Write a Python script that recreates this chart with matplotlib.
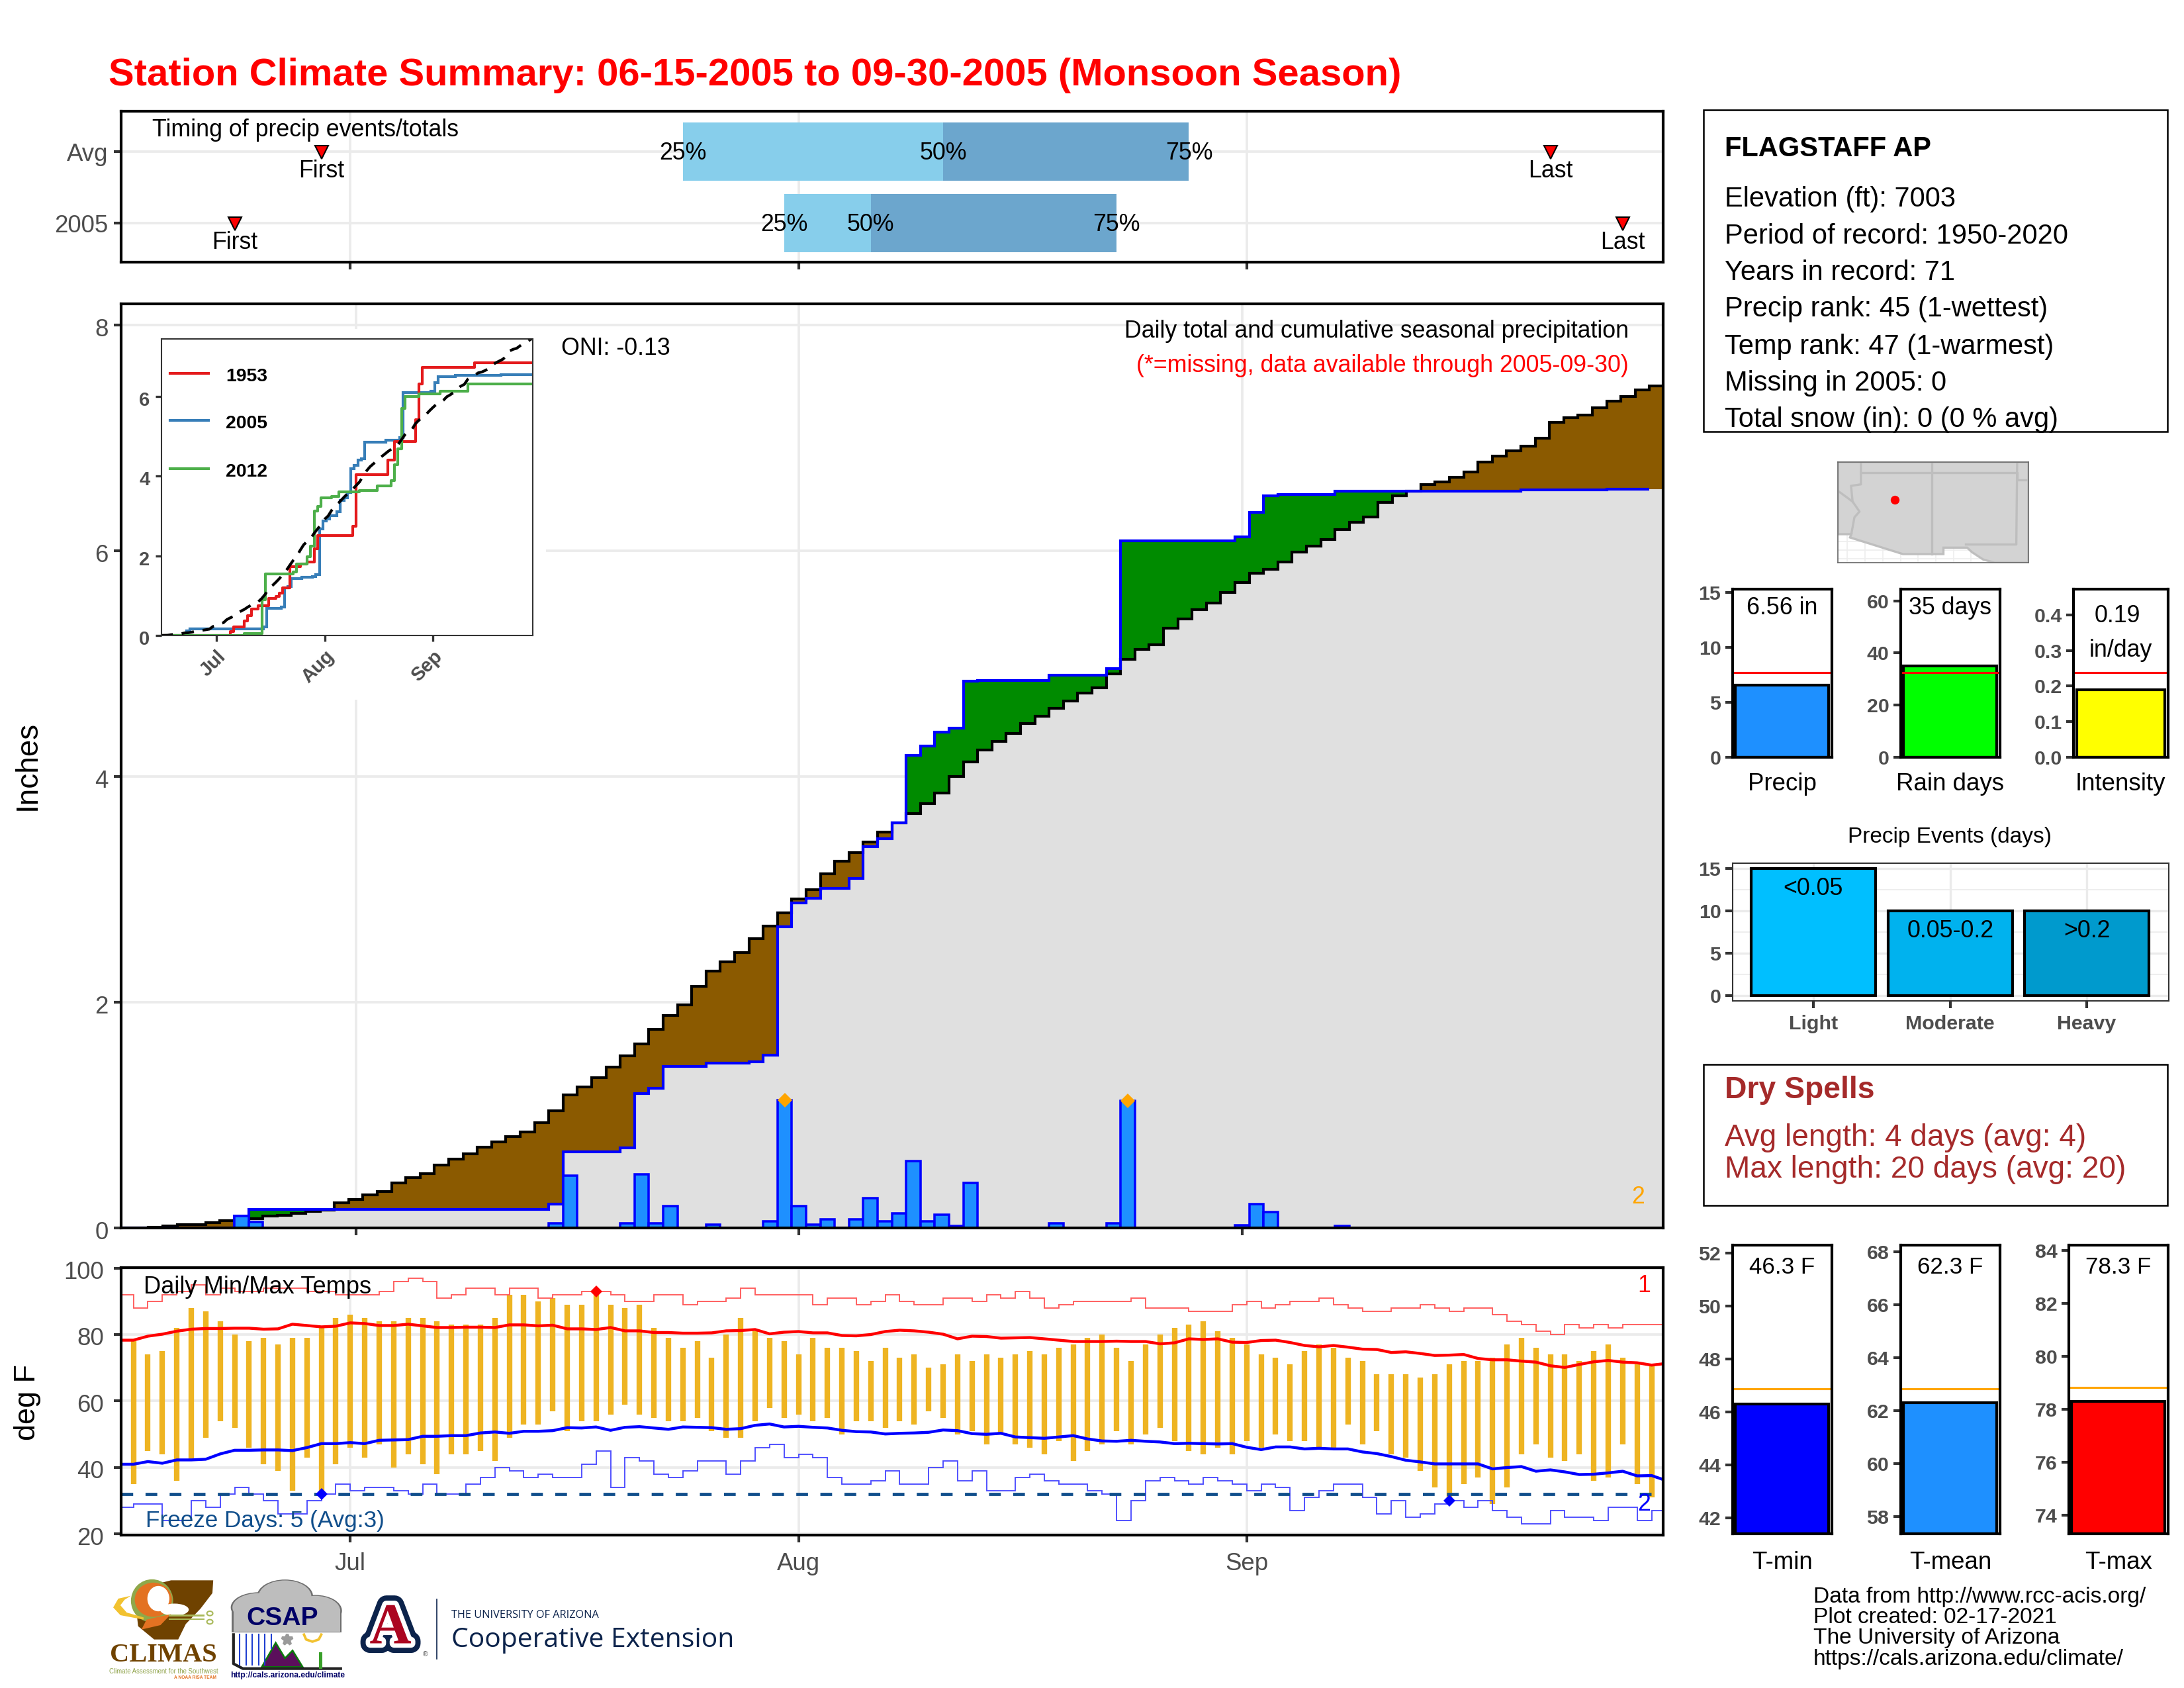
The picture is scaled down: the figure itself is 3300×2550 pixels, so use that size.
import numpy as np
import matplotlib
matplotlib.use("Agg")
import matplotlib.pyplot as plt
from matplotlib.patches import Rectangle, Polygon, Ellipse
from matplotlib.transforms import ScaledTranslation
import matplotlib.patheffects as pe

plt.rcParams['font.family'] = ['Liberation Sans', 'DejaVu Sans']

# ---------- data ----------
month_days = [16, 47, 78]
month_labels = ['Jul', 'Aug', 'Sep']

avg_cum = [0, .002, .005, .02, .03, .03, .047, .065, .07, .085,
           .105, .11, .13, .145, .16, .225, .25, .295, .32, .40,
           .445, .483, .555, .61, .655, .713, .764, .81, .848, .93,
           1.037, 1.18, 1.25, 1.334, 1.425, 1.524, 1.63, 1.76, 1.885, 1.98,
           2.14, 2.277, 2.36, 2.44, 2.565, 2.676, 2.79, 2.918, 3.0, 3.14,
           3.25, 3.326, 3.42, 3.51, 3.59, 3.67, 3.76, 3.853, 4.0, 4.13,
           4.235, 4.31, 4.385, 4.47, 4.535, 4.607, 4.67, 4.74, 4.79, 4.91,
           5.04, 5.13, 5.17, 5.315, 5.40, 5.48, 5.54, 5.635, 5.72, 5.80,
           5.84, 5.90, 5.99, 6.04, 6.10, 6.19, 6.255, 6.30, 6.43, 6.49,
           6.53, 6.59, 6.61, 6.65, 6.70, 6.79, 6.84, 6.885, 6.93, 7.0,
           7.14, 7.18, 7.205, 7.27, 7.33, 7.37, 7.43, 7.46]

cum_2005 = [0, 0, 0, 0, 0, 0, 0, 0, .108, .165,
            .165, .165, .165, .165, .165, .165, .165, .165, .165, .165,
            .165, .165, .165, .165, .165, .165, .165, .165, .165, .165,
            .21, .675, .675, .675, .675, .71, 1.19, 1.235, 1.43, 1.43,
            1.43, 1.46, 1.46, 1.46, 1.47, 1.534, 2.67, 2.88, 2.92, 3.01,
            3.01, 3.10, 3.38, 3.45, 3.59, 4.19, 4.27, 4.395, 4.43, 4.845,
            4.85, 4.85, 4.85, 4.85, 4.85, 4.90, 4.90, 4.90, 4.90, 4.96,
            6.09, 6.09, 6.09, 6.09, 6.09, 6.09, 6.09, 6.09, 6.126, 6.34,
            6.49, 6.50, 6.50, 6.50, 6.50, 6.53, 6.53, 6.53, 6.53, 6.53,
            6.53, 6.53, 6.53, 6.53, 6.53, 6.53, 6.53, 6.53, 6.54, 6.54,
            6.54, 6.54, 6.54, 6.54, 6.55, 6.55, 6.55, 6.55]

rain_days = [8, 9, 30, 31, 35, 36, 37, 38, 41, 45, 46, 47, 48, 49, 51, 52, 53, 54, 55, 56,
             57, 58, 59, 65, 69, 70, 78, 79, 80, 85]
rain_vals = [.108, .05, .04, .466, .04, .476, .04, .196, .03, .057, 1.13, .196, .03, .078, .078,
             .263, .057, .13, .594, .057, .12, .02, .40, .04, .04, 1.126, .025, .21, .14, .015]
record_rain_days = [46, 70]
record_rain_vals = [1.13, 1.126]

days_1953 = [0, 20, 21, 24, 25, 26, 28, 31, 33, 34, 35, 37, 40, 42, 44, 45, 55, 56, 65, 67, 73, 74, 75, 90, 107]
vals_1953 = [0, .095, .21, .36, .5, .66, .75, .93, .985, 1.07, 1.2, 1.73, 1.79, 1.85, 2.17, 2.51, 2.74, 4.04,
             4.40, 4.87, 5.41, 6.31, 6.72, 6.85, 6.85]
days_2012 = [0, 24, 29, 30, 38, 39, 42, 43, 44, 45, 46, 49, 51, 57, 62, 66, 67, 68, 69, 70, 74, 80, 88, 107]
vals_2012 = [0, .05, .9, 1.54, 1.6, 1.79, 1.98, 2.24, 3.12, 3.24, 3.46, 3.49, 3.6, 3.63, 3.76, 3.89, 4.28, 4.69,
             5.69, 5.99, 6.06, 6.12, 6.31, 6.31]

tmax_2005 = [78, 74, 75, 82, 88, 87, 84, 80, 78, 79,
             77, 79, 79, 82, 85, 86, 85, 84, 84, 85,
             85, 84, 83, 83, 83, 85, 92, 92, 90, 91,
             89, 89, 92, 89, 88, 89, 82, 79, 76, 78,
             73, 80, 85, 81, 79, 78, 74, 79, 76, 76,
             75, 72, 76, 73, 74, 70, 71, 74, 72, 74,
             73, 74, 75, 74, 76, 77, 79, 80, 76, 72,
             77, 80, 82, 83, 84, 81, 79, 77, 74, 73,
             71, 75, 77, 76, 73, 72, 68, 68, 68, 67,
             68, 71, 72, 72, 73, 77, 79, 76, 74, 74,
             72, 75, 77, 73, 71, 71]
tmin_2005 = [35, 45, 44, 36, 42, 49, 54, 52, 46, 41,
             39, 33, 43, 32, 41, 46, 43, 47, 40, 44,
             41, 38, 44, 44, 45, 42, 49, 53, 53, 57,
             51, 54, 54, 56, 59, 56, 55, 54, 54, 55,
             51, 49, 49, 54, 58, 55, 56, 54, 55, 50,
             54, 54, 52, 54, 53, 57, 55, 50, 51, 47,
             50, 47, 46, 44, 48, 42, 45, 47, 51, 47,
             50, 52, 48, 45, 44, 46, 44, 48, 46, 50,
             48, 48, 46, 46, 53, 47, 51, 44, 43, 39,
             34, 31, 35, 37, 29, 34, 44, 47, 43, 42,
             44, 36, 37, 47, 35, 31]

tmax_avg = [78.3, 78.3, 79.5, 80.1, 81, 81.6, 81.8, 81.8, 81.9, 81.9,
            81.6, 81.7, 83.1, 82.7, 82.3, 82.5, 83.5, 83.3, 82.7, 82.7,
            83.1, 82.6, 82.1, 82.1, 82.2, 82.2, 82.1, 82.9, 82.9, 82.6,
            82.8, 81.7, 81.7, 81.5, 82.1, 81.1, 81.1, 80.6, 80.6, 80.4,
            80.4, 80.5, 81.1, 81.2, 81.5, 80.2, 80.7, 80.9, 80.5, 80.5,
            79.7, 79.6, 80, 80.9, 81.3, 81.1, 80.7, 80.1, 78.7, 79.5,
            79.4, 78.9, 79, 79.1, 78.7, 78.3, 77.9, 77.9, 77.9, 78,
            77.9, 77.9, 77.2, 77.5, 78.7, 78.5, 78.7, 77.7, 77.6, 78.2,
            78.3, 77.6, 76.7, 76.3, 76.7, 76.2, 75.6, 75.5, 74.6, 74.8,
            74.3, 73.7, 73.8, 74, 72.8, 72.4, 72.4, 72, 71.7, 70.6,
            70.1, 71, 71.8, 72.2, 71.7, 71.5, 70.8, 71.3]
tmin_avg = [41, 41, 41.8, 41.3, 42.3, 42.3, 42.5, 44.1, 45.2, 45.2,
            45.3, 45.3, 45.1, 46, 47.2, 47.2, 47.5, 47.2, 48.2, 48.3,
            48.4, 49.4, 49.4, 49.6, 49.6, 50.4, 50.7, 50.3, 50.9, 50.9,
            51.1, 52, 51.9, 52.2, 51.2, 52.1, 52.3, 51.9, 51.5, 52.2,
            52.1, 52, 51.5, 51.7, 52.7, 53.1, 52.2, 52.4, 52.1, 51.9,
            51.2, 50.8, 50.7, 50.1, 50.3, 50.4, 50.6, 51.3, 51.1, 50.2,
            50, 50.3, 49.2, 49, 48.8, 49.2, 49.6, 48.6, 48, 47.9,
            48.2, 47.9, 47.7, 47.2, 47.3, 47.2, 47.1, 47.2, 46.1, 45.4,
            46.2, 46.2, 45.6, 45.8, 45.6, 45.6, 44.7, 44.2, 43.3, 42.2,
            41.7, 41.1, 41.1, 41.1, 41.1, 39.6, 40, 40.3, 38.9, 39.3,
            38.7, 37.9, 38, 38.4, 38.9, 37.5, 37.6, 36.1]
record_high = [92, 88, 90, 92, 93, 95, 92, 94, 93, 93,
               94, 94, 94, 93, 93, 92, 92, 92, 93, 96,
               97, 96, 91, 92, 94, 94, 92, 94, 94, 91,
               92, 92, 93, 93, 92, 90, 90, 92, 92, 89,
               90, 90, 91, 94, 92, 92, 92, 92, 89, 91,
               91, 89, 90, 92, 90, 89, 89, 91, 91, 90,
               92, 91, 93, 91, 88, 89, 90, 90, 90, 90,
               91, 88, 88, 88, 87, 87, 87, 89, 90, 88,
               89, 90, 90, 91, 89, 88, 87, 87, 88, 88,
               89, 88, 87, 88, 88, 86, 84, 83, 81, 80,
               83, 82, 83, 82, 83, 83, 83]
record_low = [28, 29, 29, 24, 24, 30, 28, 32, 34, 32,
              30, 26, 26, 30, 32, 35, 33, 34, 34, 33,
              32, 35, 32, 32, 35, 37, 40, 39, 37, 38,
              37, 37, 41, 45, 34, 43, 42, 38, 37, 39,
              42, 42, 38, 42, 46, 47, 43, 44, 43, 37,
              35, 35, 36, 39, 35, 35, 40, 42, 36, 39,
              33, 33, 37, 38, 36, 35, 35, 33, 32, 24,
              30, 36, 37, 36, 35, 37, 36, 35, 33, 35,
              34, 27, 31, 33, 35, 35, 31, 26, 30, 25,
              26, 29, 30, 28, 30, 27, 25, 23, 23, 27,
              25, 25, 24, 28, 28, 24, 27]

timing_avg = [39, 57, 74]
timing_2005 = [46, 52, 69]
first_last_avg = [14, 99]
first_last_2005 = [8, 104]

summary_titles = ['Precip', 'Rain days', 'Intensity']
summary_vals = [6.56, 35, 0.19]
summary_avgs = [7.7, 32.4, 0.237]
summary_colors = ['#1E90FF', '#00FF00', '#FFFF00']
event_names = ['Light', 'Moderate', 'Heavy']
event_vals = [15, 10, 10]
event_labels = ['<0.05', '0.05-0.2', '>0.2']
event_colors = ['#00BFFF', '#00B2EE', '#009ACD']
temp_titles = ['T-min', 'T-mean', 'T-max']
temp_vals = [46.3, 62.3, 78.3]
temp_avgs = [46.87, 62.83, 78.83]
temp_colors = ['#0000FF', '#1E90FF', '#FF0000']

info_lines = ['Elevation (ft): 7003', 'Period of record: 1950-2020', 'Years in record: 71',
              'Precip rank: 45 (1-wettest)', 'Temp rank: 47 (1-warmest)', 'Missing in 2005: 0',
              'Total snow (in): 0 (0 % avg)']
credit_lines = ['Data from http://www.rcc-acis.org/', 'Plot created: 02-17-2021',
                'The University of Arizona', 'https://cals.arizona.edu/climate/']

# ---------- layout helpers ----------
W, H = 3300, 2550
fig = plt.figure(figsize=(11, 8.5), dpi=300, facecolor='white')
GRID = '#EBEBEB'
TICK = '#333333'
LAB = '#4D4D4D'
FS = 8.6
TICKFS = 8.8
BOLDFS = 7.3


def axpx(l, t, r, b, **kw):
    return fig.add_axes([l / W, 1 - b / H, (r - l) / W, (b - t) / H], **kw)


def spines(ax, lw=1.0, color='black'):
    for s in ax.spines.values():
        s.set_linewidth(lw)
        s.set_color(color)
        s.set_zorder(20)


def stepped(values):
    values = np.asarray(values, float)
    edges = np.arange(len(values) + 1) - 0.5
    return np.repeat(edges, 2)[1:-1], np.repeat(values, 2)


ov = fig.add_axes([0, 0, 1, 1], zorder=30)
ov.set_xlim(0, W)
ov.set_ylim(H, 0)
ov.axis('off')
ov.patch.set_alpha(0)


def T(x, y, s, size=FS, color='black', ha='left', va='center', **kw):
    return ov.text(x, y + 3, s, fontsize=size, color=color, ha=ha, va=va, **kw)


T(164, 111, 'Station Climate Summary: 06-15-2005 to 09-30-2005 (Monsoon Season)', size=13.92,
  color='red', weight='bold')
T(42, 1153, 'Inches', size=11, rotation=90, ha='center')
T(42, 2115, 'deg F', size=10.8, rotation=90, ha='center')

# ---------- timing panel ----------
ax = axpx(183, 168, 2513, 396)
ax.set_xlim(0.15, 106.8)
ax.set_ylim(0.454, 2.565)
ax.set_axisbelow(True)
ax.grid(True, color=GRID, lw=0.9)
ax.set_yticks([1, 2])
ax.set_yticklabels(['2005', 'Avg'], color=LAB, fontsize=TICKFS)
ax.set_xticks(month_days)
ax.set_xticklabels([])
ax.tick_params(color=TICK, width=1, length=2.6, pad=2)
for y, q, fl in [(2, timing_avg, first_last_avg), (1, timing_2005, first_last_2005)]:
    ax.barh(y, q[1] - q[0], left=q[0], height=0.82, color='#87CEEB', zorder=2)
    ax.barh(y, q[2] - q[1], left=q[1], height=0.82, color='#6CA6CD', zorder=2)
    for v, s in zip(q, ['25%', '50%', '75%']):
        ax.text(v, y - 0.02, s, ha='center', va='center', fontsize=FS, zorder=5)
    ax.plot(fl, [y - 0.01, y - 0.01], ls='none', marker='v', mfc='red', mec='black', mew=0.5, ms=5, zorder=5)
    for v, s in zip(fl, ['First', 'Last']):
        ax.text(v, y - 0.27, s, ha='center', va='center', fontsize=FS, zorder=5)
ax.text(2.3, 2.30, 'Timing of precip events/totals', fontsize=FS, va='center')
spines(ax)
axes_main = []

# ---------- main precip panel ----------
ax = axpx(183, 459, 2513, 1855)
ax.set_xlim(-0.42, 107.45)
ax.set_ylim(0, 8.19)
ax.set_axisbelow(True)
ax.grid(True, color=GRID, lw=0.9, zorder=0.5)
ax.set_yticks([0, 2, 4, 6, 8])
ax.set_xticks(month_days)
ax.set_xticklabels([])
ax.tick_params(color=TICK, labelcolor=LAB, width=1, length=2.6, pad=2, labelsize=TICKFS)
ax.add_patch(Rectangle((184 / W, 1 - 1057 / H), 641 / W, 560 / H, transform=fig.transFigure,
                       fc='white', ec='none', zorder=1))
X, Ya = stepped(avg_cum)
_, Yb = stepped(cum_2005)
ax.fill_between(X, 0, np.minimum(Ya, Yb), color='#E0E0E0', lw=0, zorder=2)
ax.fill_between(X, Yb, Ya, where=Ya >= Yb, color='#8B5A00', lw=0, zorder=2)
ax.fill_between(X, Ya, Yb, where=Yb >= Ya, color='#008B00', lw=0, zorder=2)
edges = np.arange(len(avg_cum) + 1) - 0.5
ax.stairs(avg_cum, edges, color='black', lw=1.0, zorder=3, baseline=None)
ax.stairs(cum_2005[:-1], edges[:-1], color='#0000FF', lw=1.0, zorder=4, baseline=None)
ax.bar(rain_days, rain_vals, width=1, fc='#1E90FF', ec='#0000FF', lw=0.85, zorder=5)
ax.plot(record_rain_days, record_rain_vals, ls='none', marker='D', color='orange', ms=3.9, mew=0, zorder=6)
spines(ax)
axes_main.append(ax)
T(848, 524, 'ONI: -0.13')
T(2461, 497, 'Daily total and cumulative seasonal precipitation', ha='right')
T(2461, 549, '(*=missing, data available through 2005-09-30)', ha='right', color='red')
T(2475, 1806, '2', color='orange', ha='center')

# ---------- inset ----------
ins = axpx(244, 512, 805, 960, zorder=10)
ins.set_xlim(0.27, 106.6)
ins.set_ylim(0, 7.44)
ins.plot(days_1953, vals_1953, drawstyle='steps-post', color='#E41A1C', lw=1.0)
ins.stairs(cum_2005, np.arange(len(cum_2005) + 1) - 0.5, color='#377EB8', lw=1.0, baseline=None)
ins.plot(days_2012, vals_2012, drawstyle='steps-post', color='#4DAF4A', lw=1.0)
ins.plot(np.arange(len(avg_cum)), avg_cum, color='black', lw=1.0, dashes=(4.5, 3.2))
ins.set_yticks([0, 2, 4, 6])
ins.set_xticks(month_days)
ins.set_xticklabels(month_labels, rotation=45, ha='right', rotation_mode='anchor')
ins.tick_params(color=TICK, labelcolor=LAB, width=0.8, length=2.2, pad=2, labelsize=7)
for t in ins.get_xticklabels() + ins.get_yticklabels():
    t.set_fontweight('bold')
spines(ins, 0.5, TICK)
for yy, col, s in [(566, '#E41A1C', '1953'), (637, '#377EB8', '2005'), (710, '#4DAF4A', '2012')]:
    ov.plot([257, 315], [yy - 2, yy - 2], color=col, lw=1.0)
    T(341, yy, s, size=6.8, weight='bold')

# ---------- temperature panel ----------
ax = axpx(183, 1915, 2513, 2319)
days = np.arange(1, 1 + len(tmax_2005))
ax.set_xlim(0.15, 106.8)
ax.set_ylim(19.7, 100.1)
ax.set_axisbelow(True)
ax.grid(True, color=GRID, lw=0.9, zorder=0.5)
ax.vlines(days, tmin_2005, tmax_2005, color='#EEB422', lw=2.0, zorder=2)
ax.stairs(record_high, np.arange(len(record_high) + 1), color='#FF5A5A', lw=0.45, baseline=None, zorder=3)
ax.stairs(record_low, np.arange(len(record_low) + 1), color='#4A4AFF', lw=0.45, baseline=None, zorder=3)
ax.axhline(32, color='#104E8B', lw=1.15, dashes=(3.7, 3.9), zorder=3)
ax.plot(np.arange(len(tmax_avg)), tmax_avg, color='#FF0000', lw=1.05, zorder=4)
ax.plot(np.arange(len(tmin_avg)), tmin_avg, color='#0000FF', lw=1.05, zorder=4)
ax.plot([33], [93], ls='none', marker='D', color='red', ms=3.2, mew=0, zorder=5)
ax.plot([14, 92], [32, 30], ls='none', marker='D', color='#0000FF', ms=3.2, mew=0, zorder=5)
ax.set_yticks([20, 40, 60, 80, 100])
ax.set_xticks(month_days)
ax.set_xticklabels(month_labels)
ax.tick_params(color=TICK, labelcolor=LAB, width=1, length=2.6, pad=3.6, labelsize=TICKFS)
spines(ax)
axes_main.append(ax)
T(217, 1941, 'Daily Min/Max Temps', size=8.7)
T(220, 2295, 'Freeze Days: 5 (Avg:3)', size=8.45, color='#104E8B')
T(2484, 1940, '1', color='red', ha='center')
T(2484, 2270, '2', color='#0000FF', ha='center')

# ---------- right: info box ----------
ov.add_patch(Rectangle((2574, 166), 701, 486, fc='none', ec='black', lw=0.6))
T(2606, 222, 'FLAGSTAFF AP', size=10, weight='bold')
for yy, s in zip([298, 354, 409, 464, 521, 576, 631], info_lines):
    T(2606, yy, s, size=10)

# ---------- map ----------
m = axpx(2777, 698, 3065, 850)
m.set_xlim(-115.67, -102.2)
m.set_ylim(30.73, 37.76)
m.set_xticks(np.arange(-115, -102, 1.25))
m.set_yticks(np.arange(31, 33, 0.6))
m.grid(True, color='#EEEEEE', lw=0.4)
m.set_axisbelow(True)
m.tick_params(length=0, labelbottom=False, labelleft=False)
land_lon = [-115.67, -114.72, -114.81, -111.07, -108.21, -108.21, -106.53, -106.2, -105.4, -104.6, -102.2, -102.2, -115.67]
land_lat = [32.72, 32.72, 32.49, 31.33, 31.33, 31.78, 31.78, 31.47, 30.95, 30.73, 30.73, 37.76, 37.76]
m.fill(land_lon, land_lat, fc='#D3D3D3', ec='#BEBEBE', lw=0.8, zorder=2)
state_lines = [([-114.04, -114.04, -114.74, -114.63, -114.14, -114.5, -114.72], [37.76, 36.2, 36.1, 35.0, 34.3, 33.9, 32.72]),
               ([-115.67, -114.63], [35.75, 35.0]),
               ([-114.04, -103.0, -103.0, -102.2], [37, 37, 36.5, 36.5]),
               ([-109.05, -109.05], [37.76, 31.33]),
               ([-103.0, -103.06, -106.62], [37.76, 32.0, 32.0])]
for lo, la in state_lines:
    m.plot(lo, la, color='#BEBEBE', lw=0.8, zorder=3)
m.plot([-111.65], [35.14], ls='none', marker='o', color='red', ms=3.2, mew=0, zorder=4)
spines(m, 0.4, '#666666')

# ---------- summary bars ----------
sum_boxes = [(2617.5, 2768), (2871.5, 3022), (3133, 3276)]
sum_lims = [(0, 15.3), (0, 64.5), (0, 0.472)]
sum_ticks = [[0, 5, 10, 15], [0, 20, 40, 60], [0, .1, .2, .3, .4]]
sum_fmt = ['%d', '%d', '%.1f']
for (l, r), lim, tk, fm, v, a, c, name in zip(sum_boxes, sum_lims, sum_ticks, sum_fmt, summary_vals, summary_avgs,
                                             summary_colors, summary_titles):
    b = axpx(l, 890, r, 1144)
    b.set_xlim(0.5, 1.5)
    b.set_ylim(*lim)
    b.bar([1], [v], width=0.935, fc=c, ec='black', lw=1.0, zorder=2)
    b.axhline(a, color='red', lw=0.75, zorder=3)
    b.set_yticks(tk)
    b.set_yticklabels([fm % t for t in tk], fontweight='bold')
    b.set_xticks([])
    b.tick_params(color=TICK, labelcolor=LAB, width=1, length=2.6, pad=1.5, labelsize=BOLDFS)
    spines(b)
    T((l + r) / 2 if name != 'Intensity' else 3204, 1182, name, size=8.8, ha='center')
T(2693, 915, '6.56 in', ha='center')
T(2946, 915, '35 days', ha='center')
T(3199, 928, '0.19', ha='center')
T(3204, 980, 'in/day', ha='center')

# ---------- precip events ----------
e = axpx(2617.5, 1304, 3277, 1512)
e.set_xlim(0.406, 3.6)
e.set_ylim(-0.64, 15.64)
e.set_axisbelow(True)
e.set_yticks([0, 5, 10, 15])
e.set_yticks([2.5, 7.5, 12.5], minor=True)
e.grid(True, which='major', color=GRID, lw=0.8)
e.grid(True, which='minor', axis='y', color=GRID, lw=0.4)
e.bar([1, 2, 3], event_vals, width=0.91, color=event_colors, ec='black', lw=1.0, zorder=2)
e.set_xticks([1, 2, 3])
e.set_xticklabels(event_names, fontweight='bold')
e.set_yticklabels(['0', '5', '10', '15'], fontweight='bold')
e.tick_params(which='major', color=TICK, labelcolor=LAB, width=1, length=2.6, pad=1.5, labelsize=BOLDFS)
e.tick_params(axis='x', which='major', pad=2.5)
e.tick_params(which='minor', length=0)
spines(e, 0.5, TICK)
T(2946, 1261, 'Precip Events (days)', size=8.0, ha='center')
for xx, yy, s in zip([2739, 2947, 3153], [1340, 1403, 1403], event_labels):
    T(xx, yy, s, ha='center')

# ---------- dry spells ----------
ov.add_patch(Rectangle((2574, 1608), 701, 213, fc='none', ec='black', lw=0.6))
T(2606, 1644, 'Dry Spells', size=11.1, color='#A52A2A', weight='bold')
T(2606, 1716, 'Avg length: 4 days (avg: 4)', size=11.05, color='#A52A2A')
T(2606, 1764, 'Max length: 20 days (avg: 20)', size=11.05, color='#A52A2A')

# ---------- temperature bars ----------
tb_boxes = [(2617.5, 2768), (2871.5, 3022), (3125.5, 3276)]
tb_lims = [(41.41, 52.3), (57.35, 68.24), (73.3, 84.19)]
tb_ticks = [[42, 44, 46, 48, 50, 52], [58, 60, 62, 64, 66, 68], [74, 76, 78, 80, 82, 84]]
for (l, r), lim, tk, v, a, c, name in zip(tb_boxes, tb_lims, tb_ticks, temp_vals, temp_avgs, temp_colors, temp_titles):
    b = axpx(l, 1881, r, 2317)
    b.set_xlim(0.5, 1.5)
    b.set_ylim(*lim)
    b.bar([1], [v - lim[0]], bottom=lim[0], width=0.935, fc=c, ec='black', lw=1.0, zorder=2)
    b.axhline(a, color='orange', lw=0.75, zorder=3)
    b.set_yticks(tk)
    b.set_yticklabels([str(t) for t in tk], fontweight='bold')
    b.set_xticks([])
    b.tick_params(color=TICK, labelcolor=LAB, width=1, length=2.6, pad=1.5, labelsize=BOLDFS)
    spines(b)
    T((l + r) / 2, 2357, name, size=8.8, ha='center')
    T((l + r) / 2, 1912, '%.1f F' % v, size=8.4, ha='center')

for yy, s in zip([2409, 2440, 2472, 2504], credit_lines):
    T(2740, yy, s, size=8.04)

# y tick labels of the two large panels sit slightly lower in the reference
shift = ScaledTranslation(0, -3 / 300, fig.dpi_scale_trans)
for a_ in axes_main + [ins]:
    for t in a_.get_yticklabels():
        t.set_transform(t.get_transform() + shift)


# ---------- logos (drawn approximations, zoomed coordinates mapped to pixels) ----------
def P(pts):
    return [(150 + x / 1.568, 2350 + y / 3) for x, y in pts]


def poly(pts, **kw):
    ov.add_patch(Polygon(P(pts), closed=True, **kw))


def ell(cx, cy, w, h, **kw):
    (x, y), = P([(cx, cy)])
    ov.add_patch(Ellipse((x, y), w / 1.568, h / 3, **kw))


# CLIMAS
poly([(170, 112), (270, 112), (268, 170), (240, 240), (205, 310), (187, 380), (130, 380), (92, 320), (85, 200), (112, 140)],
     fc='#6F4200', ec='none')
ell(125, 205, 100, 195, fc='#8FA84A', ec='none')
ell(128, 200, 88, 155, fc='#E37222', ec='none')
ell(140, 195, 52, 115, fc='white', ec='none')
ell(178, 245, 68, 55, fc='white', ec='none')
poly([(100, 335), (112, 290), (170, 265), (145, 315)], fc='#E37222', ec='none')
poly([(75, 182), (45, 195), (33, 235), (50, 270), (105, 290), (105, 280), (65, 258), (50, 225), (60, 200)],
     fc='#F2C230', ec='none')
poly([(165, 268), (250, 268), (250, 276), (165, 276)], fc='#A9B95A', ec='none')
poly([(165, 284), (250, 284), (250, 292), (165, 292)], fc='#A9B95A', ec='none')
ell(262, 262, 14, 20, fc='none', ec='#A9B95A', lw=0.5)
ell(262, 300, 14, 20, fc='none', ec='#A9B95A', lw=0.5)
T(247, 2498, 'CLIMAS', size=9.7, color='#6F4200', ha='center', family='Liberation Serif', weight='bold')
T(247, 2522, 'Climate Assessment for the Southwest', size=2.3, color='#8FA34A', ha='center')
T(295, 2531, 'A NOAA RISA TEAM', size=1.6, color='#E37222', ha='center', weight='bold')

# CSAP
for col, g in [('#6E6E6E', 8), ('#BDBDBD', 0)]:
    ell(378, 235, 125 + g, 130 + g, fc=col, ec='none')
    ell(440, 185, 125 + g, 145 + g, fc=col, ec='none')
    ell(512, 250, 118 + g, 135 + g, fc=col, ec='none')
    poly([(318 - g / 2, 250), (570 + g / 2, 250), (570 + g / 2, 345 + g / 2), (318 - g / 2, 345 + g / 2)], fc=col, ec='none')
T(427, 2442, 'CSAP', size=9.4, color='#000066', ha='center', weight='bold')
for zx, zy in zip([332, 348, 362, 378, 392, 408], [495, 495, 495, 495, 495, 420]):
    ov.plot(*zip(*P([(zx, 358), (zx, zy)])), color='#1F3FD0', lw=0.5)
ov.plot(*zip(*P([(318, 358), (318, 490), (340, 512), (572, 512)])), color='#222222', lw=1.0)
poly([(385, 505), (418, 395), (440, 465), (458, 430), (482, 505)], fc='#5B0F5B', ec='#0A7A0A', lw=0.6)
ov.plot(*zip(*P([(445, 380)])), marker='*', color='#9A9A9A', ms=4, ls='none')
ov.plot(*zip(*P([(485, 358), (490, 380), (505, 390), (520, 380), (526, 358)])), color='#F2C230', lw=0.9)
ov.plot(*zip(*P([(523, 445), (523, 505)])), color='#3AA02A', lw=1.2)
T(435, 2528, 'http://cals.arizona.edu/climate', size=2.9, color='#000066', ha='center', weight='bold')

# University of Arizona
T(590, 2458, 'A', size=21, color='#AB0520', ha='center', family='Liberation Serif', weight='bold',
  path_effects=[pe.Stroke(linewidth=7, foreground='#0C234B'), pe.Stroke(linewidth=3.2, foreground='white'), pe.Normal()])
T(643, 2496, '®', size=2.5, color='#555555', ha='center')
ov.plot([660, 660], [2416, 2506], color='#0C234B', lw=0.4)
T(682, 2437, 'THE UNIVERSITY OF ARIZONA', size=3.9, color='#0C234B', family='Open Sans')
T(682, 2475, 'Cooperative Extension', size=9.8, color='#0C234B', family='Open Sans')

fig.savefig('out.png', dpi=300, facecolor='white')
